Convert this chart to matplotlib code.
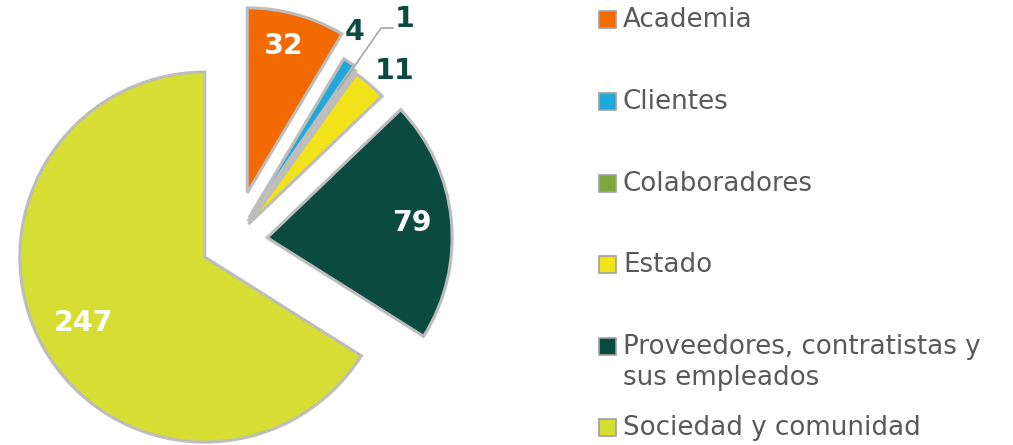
import matplotlib.pyplot as plt
from matplotlib.patches import Rectangle

# data
categories = ['Academia', 'Clientes', 'Colaboradores', 'Estado',
              'Proveedores, contratistas y\nsus empleados', 'Sociedad y comunidad']
values = [32, 4, 1, 11, 79, 247]
colors = ['#F26A00', '#1FA8D8', '#7AA83A', '#F2E21A', '#0B4A3E', '#D6DD33']
explode = [0.27, 0.15, 0.13, 0.12, 0.18, 0.18]

W, H = 1013, 445
fig = plt.figure(figsize=(W / 100, H / 100), dpi=100)
ax = fig.add_axes([0, 0, 1, 1])

r = 185
cx, cy = 234, H - 241
# matplotlib explode is in data units, so scale by radius
wedges, _ = ax.pie(values, colors=colors, explode=[e * r for e in explode],
                   startangle=90, counterclock=False, radius=r, center=(cx, cy),
                   frame=True, wedgeprops=dict(edgecolor='#BDBDBD', linewidth=2.2))
ax.set_xlim(0, W)
ax.set_ylim(0, H)
ax.set_aspect('equal')
ax.axis('off')

# value labels (pixel positions)
label_pos = [(283, 46), (355, 32), (405, 19), (395, 71), (412, 223), (83, 323)]
label_col = ['white', '#0B4A3E', '#0B4A3E', '#0B4A3E', 'white', 'white']
for v, (x, y), c in zip(values, label_pos, label_col):
    ax.text(x, H - y, str(v), color=c, fontsize=20.5, fontweight='bold',
            ha='center', va='center', family='DejaVu Sans')

# leader line for the "1" label
ax.plot([393, 381, 338], [H - 28, H - 28, H - 90], color='#A6A6A6', lw=1.2)

# legend
leg_y = [20, 102, 184, 265, 347, 428]
for name, c, y in zip(categories, colors, leg_y):
    ax.add_patch(Rectangle((599, H - y - 8), 17, 17, facecolor=c,
                           edgecolor='#A0A0A0', lw=1.2))
    ax.text(623, H - y, name.split('\n')[0], fontsize=18.8, color='#595959',
            va='center', ha='left')
    if '\n' in name:
        ax.text(623, H - y - 31, name.split('\n')[1], fontsize=18.8,
                color='#595959', va='center', ha='left')

fig.savefig('out.png', dpi=100)
